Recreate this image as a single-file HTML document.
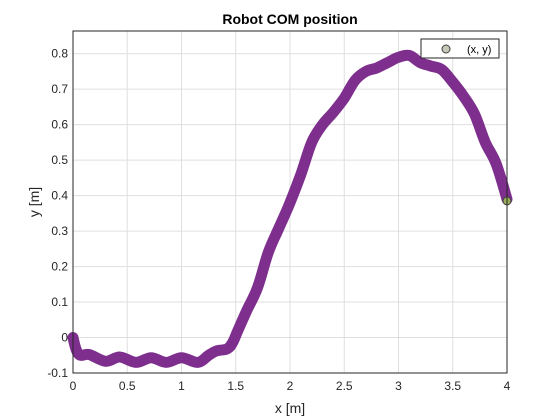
<!DOCTYPE html>
<html><head><meta charset="utf-8"><style>
body{margin:0;background:#fff;}
svg{display:block;font-family:"Liberation Sans",sans-serif;}
</style></head><body>
<svg width="560" height="420" id="c">
<text x="290" y="24" text-anchor="middle" font-weight="bold" font-size="14" fill="#000">Robot COM position</text>
<text x="290" y="413" text-anchor="middle" font-size="14" fill="#262626">x [m]</text>
<text transform="translate(39,202) rotate(-90)" text-anchor="middle" font-size="14" fill="#262626">y [m]</text>
<g id="grid"></g>
<g id="ticks"></g>
<g id="series"></g>
<rect x="73" y="31" width="434" height="342" fill="none" stroke="#262626" stroke-width="1"/>
<g>
<rect x="421" y="39" width="78" height="19" fill="#fff" stroke="#262626" stroke-width="1"/>
<circle cx="446" cy="49" r="4" fill="#c8c8b8" stroke="#404040" stroke-width="1"/>
<text x="467" y="53" font-size="11" fill="#000">(x, y)</text>
</g>
</svg>
<script>
const xTicks=[0,0.5,1,1.5,2,2.5,3,3.5,4];
const xTickLabels=["0","0.5","1","1.5","2","2.5","3","3.5","4"];
const yTicks=[-0.1,0,0.1,0.2,0.3,0.4,0.5,0.6,0.7,0.8];
const yTickLabels=["-0.1","0","0.1","0.2","0.3","0.4","0.5","0.6","0.7","0.8"];
const xs=[0,0.03,0.07,0.15,0.3,0.43,0.58,0.72,0.86,1.0,1.15,1.25,1.32,1.42,1.47,1.52,1.6,1.7,1.8,1.9,2.0,2.1,2.2,2.3,2.4,2.5,2.6,2.7,2.8,2.9,3.0,3.1,3.2,3.3,3.4,3.5,3.6,3.7,3.8,3.9,4.0];
const ys=[0,-0.035,-0.05,-0.048,-0.067,-0.055,-0.07,-0.057,-0.07,-0.057,-0.07,-0.05,-0.038,-0.032,-0.015,0.02,0.075,0.14,0.24,0.31,0.38,0.46,0.55,0.6,0.635,0.675,0.725,0.75,0.76,0.775,0.79,0.795,0.775,0.765,0.755,0.72,0.68,0.63,0.55,0.49,0.39];
const endPoint=[4.0,0.385];
const NS="http://www.w3.org/2000/svg";
const X=v=>73+(v-0)*(434/4);
const Y=v=>373-(v+0.1)*(342/0.964);
function mk(t,a,p){const e=document.createElementNS(NS,t);for(const k in a)e.setAttribute(k,a[k]);p.appendChild(e);return e;}
const g=document.getElementById('grid'),tk=document.getElementById('ticks'),s=document.getElementById('series');
xTicks.forEach((v,i)=>{
 const l=mk('line',{x1:X(v),x2:X(v),y1:31,y2:373,stroke:'#dfdfdf','stroke-width':1},g);
 
 
 const t=mk('text',{x:X(v),y:390,'text-anchor':'middle','font-size':12,fill:'#262626'},tk);
 t.textContent=xTickLabels[i];
 
 
});
yTicks.forEach((v,i)=>{
 const l=mk('line',{x1:73,x2:507,y1:Y(v),y2:Y(v),stroke:'#dfdfdf','stroke-width':1},g);
 
 
 const t=mk('text',{x:68,y:Y(v)+4,'text-anchor':'end','font-size':12,fill:'#262626'},tk);
 t.textContent=yTickLabels[i];
 
 
});
const P=xs.map((v,i)=>[X(v),Y(ys[i])]);
let d='M'+P[0][0].toFixed(1)+','+P[0][1].toFixed(1);
for(let i=0;i<P.length-1;i++){
 const p0=P[Math.max(0,i-1)],p1=P[i],p2=P[i+1],p3=P[Math.min(P.length-1,i+2)];
 const c1=[p1[0]+(p2[0]-p0[0])/6,p1[1]+(p2[1]-p0[1])/6];
 const c2=[p2[0]-(p3[0]-p1[0])/6,p2[1]-(p3[1]-p1[1])/6];
 d+=' C'+c1.map(n=>n.toFixed(1)).join(',')+' '+c2.map(n=>n.toFixed(1)).join(',')+' '+p2.map(n=>n.toFixed(1)).join(',');
}
const p=mk('path',{d:d,fill:'none',stroke:'#7e2f8e','stroke-width':11,'stroke-linejoin':'round','stroke-linecap':'round'},s);


const c=mk('circle',{cx:X(endPoint[0]),cy:Y(endPoint[1]),r:4,fill:'#9aae5a',stroke:'#404040','stroke-width':1},s);


</script>
</body></html>
